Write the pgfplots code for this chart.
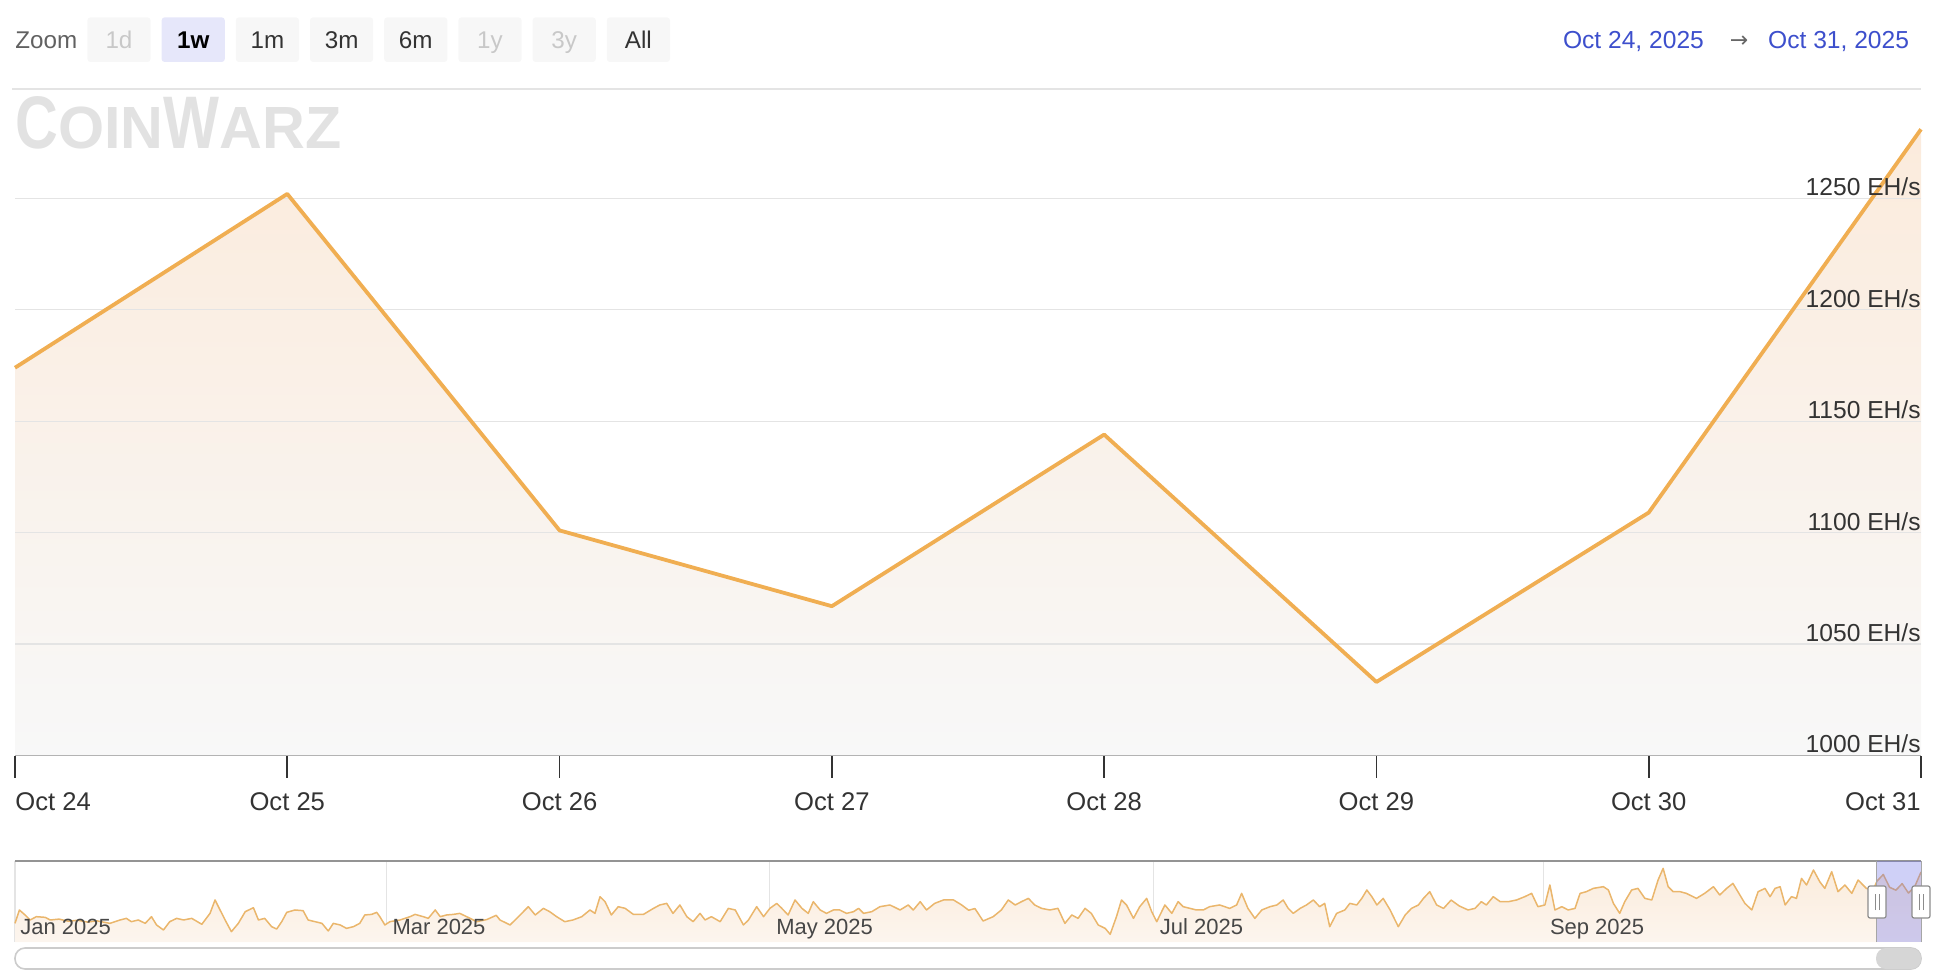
\documentclass[border=0pt]{standalone}
\usepackage{fontspec}
\setmainfont{Liberation Sans}
\newfontfamily\dejavu{DejaVu Sans}
\usepackage{pgfplots}
\pgfplotsset{compat=1.18}
\usepackage{graphicx}
\definecolor{lineorange}{RGB}{240,174,82}
\definecolor{navline}{RGB}{234,182,108}
\definecolor{filltop}{RGB}{251,235,220}
\definecolor{fillbot}{RGB}{248,248,248}
\definecolor{navtop}{RGB}{251,236,220}
\definecolor{navbot}{RGB}{252,245,238}
\definecolor{gridgray}{RGB}{228,228,228}
\definecolor{txt}{RGB}{51,51,51}
\definecolor{datablue}{RGB}{61,79,204}
\definecolor{btnbg}{RGB}{247,247,247}
\definecolor{btnsel}{RGB}{230,231,250}
\definecolor{disabled}{RGB}{200,200,200}
\definecolor{maskc}{RGB}{110,112,232}
\definecolor{wm}{RGB}{226,226,226}

\pgfplotstableread{
day val
0 675
0.7 833
1.6 774
2.4 715
3.4 754
4.8 746
5.6 715
7 725
8.5 700
10 712
11.5 690
13 705
15.1 675
16.7 715
17.7 734
18.5 695
19.6 715
20.7 675
21.7 754
22.5 656
23.6 597
24.6 695
25.7 734
26.8 715
28.1 734
29.7 664
31 793
31.8 951
32.6 833
33.4 715
34.4 577
35.5 675
36.6 813
37.9 860
38.7 715
39.7 734
40.8 636
41.6 608
42.4 695
43.2 805
44.5 833
45.8 825
46.6 715
47.7 695
48.8 675
49.8 585
50.6 675
51.7 656
52.7 616
53.8 636
54.8 675
55.6 774
56.7 781
57.5 805
58 754
58.8 656
59.6 695
61.2 715
62.8 754
63.6 781
64.9 754
65.7 734
66.8 833
67.6 754
68.6 774
69.7 781
70.7 793
71.8 754
73.4 695
75 720
76.5 770
77.1 715
78.7 656
80.3 774
81.6 872
82.7 774
84 852
85 813
86.1 754
87.4 695
88.7 715
90.1 754
91.4 833
92.2 793
93 990
93.8 931
94.8 774
95.9 872
97 852
98.3 781
99.9 781
101.5 852
102.5 892
103.6 911
104.6 793
105.7 892
106.8 754
107.8 695
108.9 793
109.7 715
110.7 754
112.1 695
113.4 852
114.5 833
115.8 656
116.6 715
117.9 872
119 754
120 852
121.1 911
121.9 852
122.9 774
124 951
125.1 852
126.1 793
126.9 931
128 833
129 793
130.1 833
131.1 833
132.2 793
133.3 813
134.1 852
134.9 793
136.2 813
137.5 872
139.1 892
140.7 833
142 892
142.8 833
143.9 931
144.9 833
146.2 911
147.6 951
149.2 951
150.5 892
151.6 830
152.6 850
153.9 703
155.5 754
156.8 833
157.9 951
159 892
160 931
161.1 970
162.1 892
163.2 852
164.5 833
165.8 852
166.9 675
168 774
169 734
170.1 852
171.1 793
172.2 656
173.3 616
174.1 546
175.1 754
175.9 951
176.7 892
177.8 734
178.8 872
179.9 970
180.7 813
181.5 695
182.8 892
183.9 793
184.9 931
185.7 872
186.8 852
187.8 833
188.9 833
189.9 872
191.5 892
193.1 852
194.2 892
195 1029
196 852
197.1 734
198.2 833
199.5 872
200.6 892
201.6 951
202.4 852
203.2 793
204.3 852
205.3 892
206.4 951
207.4 872
208.2 911
209 636
210.1 793
211.4 833
212.2 911
213.3 892
214.1 970
214.9 1069
215.7 990
216.5 892
217.5 970
218.6 833
219.9 636
221 774
222 852
223.1 892
223.9 970
224.9 1049
226 892
227.1 852
228.3 950
229.6 880
231 833
232.1 852
233.1 931
233.9 892
235 990
236.1 931
237.4 931
238.7 951
240 990
241.1 1029
242.1 872
243.2 892
244 1128
244.8 833
245.9 872
246.9 833
248 852
248.8 1029
249.8 1049
250.9 1088
252.5 1108
253.3 1069
254.1 911
255.1 793
255.9 931
257 1069
258 1088
259.1 970
260.2 951
261.2 1187
262 1324
262.8 1108
263.6 1049
264.7 1049
265.7 1029
267.3 970
268.6 1029
270 1108
271 1010
272.1 1088
273.1 1147
274.2 1010
275 911
276.1 833
277.1 1049
278.2 1088
279 990
279.8 1088
280.6 1108
281.4 892
282.4 990
283.2 970
284 1206
284.8 1128
285.9 1305
286.9 1167
287.7 1088
288.8 1285
289.8 1049
290.9 1128
292 1029
293 1187
294.3 1088
295.4 1069
296 1174
297 1252
298 1101
299 1067
300 1144
301 1033
302 1109
303 1281
}\navdata

\begin{document}
\begin{tikzpicture}[x=1pt,y=1pt]
\path (0,0) rectangle (971,487.5);

% ---- zoom buttons
\node[anchor=base west, inner sep=0, text=black!62, font=\fontsize{12.1}{14}\selectfont] at (7.5,463.4) {Zoom};
\newcommand\btn[4]{%
  \fill[#3, rounded corners=1.5pt] (#1-15.8,456.5) rectangle (#1+15.8,478.8);
  \node[anchor=base, inner sep=0, text=#4, font=\fontsize{12.1}{14}\selectfont] at (#1,463.4) {#2};}
\btn{59.5}{1d}{btnbg}{disabled}
\btn{96.6}{\bfseries 1w}{btnsel}{black}
\btn{133.7}{1m}{btnbg}{txt}
\btn{170.8}{3m}{btnbg}{txt}
\btn{207.9}{6m}{btnbg}{txt}
\btn{245.0}{1y}{btnbg}{disabled}
\btn{282.1}{3y}{btnbg}{disabled}
\btn{319.2}{All}{btnbg}{txt}

% ---- date range
\node[anchor=base west, inner sep=0, text=datablue, font=\fontsize{12.3}{14}\selectfont] at (781.3,463.3) {Oct 24, 2025};
\node[anchor=base, inner sep=0, text=black!60, font=\dejavu\fontsize{11}{14}\selectfont] at (869.5,463.8) {→};
\node[anchor=base east, inner sep=0, text=datablue, font=\fontsize{12.3}{14}\selectfont] at (954.7,463.3) {Oct 31, 2025};

% ---- separator and watermark
\draw[gridgray, line width=1pt] (6,443.2) -- (960.5,443.2);
\node[anchor=north west, inner sep=0, text=wm] at (7.5,439.2) {\resizebox{163pt}{26pt}{\bfseries C\scalebox{1}[0.8]{OIN}W\scalebox{1}[0.8]{ARZ}}};

% ---- main chart
\begin{axis}[
  at={(7.5pt,109.75pt)}, anchor=south west, scale only axis,
  width=953pt, height=333.5pt,
  xmin=0, xmax=7, ymin=1000, ymax=1299.3,
  clip=false,
  axis x line*=bottom, axis y line*=right,
  x axis line style={draw=txt, line width=0.8pt},
  y axis line style={draw=none},
  xtick={0,...,7}, xticklabels={,,,,,,,,},
  tick align=outside, major tick length=11pt,
  xtick style={draw=txt, line width=0.8pt},
  ytick=\empty,
]
\addplot[draw=none, top color=filltop, bottom color=fillbot] coordinates {
 (0,1000) (0,1174) (1,1252) (2,1101) (3,1067) (4,1144) (5,1033) (6,1109) (7,1281) (7,1000)} -- cycle;
\pgfplotsinvokeforeach{1050,1100,1150,1200,1250}{
  \draw[gridgray, line width=0.6pt] (axis cs:0,#1) -- (axis cs:7,#1);
}
\addplot[lineorange, line width=1.9pt, line join=round] coordinates {
 (0,1174) (1,1252) (2,1101) (3,1067) (4,1144) (5,1033) (6,1109) (7,1281)};
\begin{scope}[every node/.style={inner sep=0pt, text=txt, font=\fontsize{12.3}{14}\selectfont, anchor=base east}]
\pgfplotsinvokeforeach{1000,1050,1100,1150,1200,1250}{
  \node at (axis cs:7,#1) [yshift=1.3pt] {#1 EH/s};
}
\end{scope}
\begin{scope}[every node/.style={inner sep=0pt, text=txt, font=\fontsize{12.8}{14}\selectfont}]
\node[anchor=base west] at (axis cs:0,1000) [yshift=-27.25pt] {Oct 24};
\node[anchor=base] at (axis cs:1,1000) [yshift=-27.25pt] {Oct 25};
\node[anchor=base] at (axis cs:2,1000) [yshift=-27.25pt] {Oct 26};
\node[anchor=base] at (axis cs:3,1000) [yshift=-27.25pt] {Oct 27};
\node[anchor=base] at (axis cs:4,1000) [yshift=-27.25pt] {Oct 28};
\node[anchor=base] at (axis cs:5,1000) [yshift=-27.25pt] {Oct 29};
\node[anchor=base] at (axis cs:6,1000) [yshift=-27.25pt] {Oct 30};
\node[anchor=base east] at (axis cs:7,1000) [yshift=-27.25pt] {Oct 31};
\end{scope}
\end{axis}

% ---- navigator
\begin{axis}[
  at={(7.5pt,16.5pt)}, anchor=south west, scale only axis,
  width=953pt, height=40.5pt,
  xmin=0, xmax=303, ymin=455, ymax=1411,
  clip=false,
  axis line style={draw=none},
  xtick={0,59,120,181,243}, xticklabels={,,,,,},
  ytick=\empty, tick style={draw=none},
  xmajorgrids, grid style={gridgray, line width=0.6pt},
]
\addplot[draw=none, top color=navtop, bottom color=navbot] table[x=day,y=val] {\navdata} -- (axis cs:303,455) -- (axis cs:0,455) -- cycle;
\addplot[navline, line width=0.75pt, line join=round] table[x=day,y=val] {\navdata};
\draw[black!42, line width=1pt] (axis cs:0,1411) -- (axis cs:303,1411);
\fill[maskc, opacity=0.33] (axis cs:296,455) rectangle (axis cs:303,1411);
\draw[black!35, line width=0.5pt] (axis cs:296,455) -- (axis cs:296,1411);
\draw[black!35, line width=0.5pt] (axis cs:303,455) -- (axis cs:303,1411);
\begin{scope}[every node/.style={inner sep=0pt, text=black!72, font=\fontsize{11}{13}\selectfont, anchor=base west}]
\node at (axis cs:0,455) [xshift=2.5pt, yshift=4pt] {Jan 2025};
\node at (axis cs:59,455) [xshift=3pt, yshift=4pt] {Mar 2025};
\node at (axis cs:120,455) [xshift=3pt, yshift=4pt] {May 2025};
\node at (axis cs:181,455) [xshift=3pt, yshift=4pt] {Jul 2025};
\node at (axis cs:243,455) [xshift=3pt, yshift=4pt] {Sep 2025};
\end{scope}
\end{axis}

% handles
\foreach \hx in {938.5,960.5} {
  \draw[black!45, fill=white, rounded corners=1pt, line width=0.6pt] (\hx-4.5,28.5) rectangle (\hx+4.5,44.5);
  \draw[black!45, line width=0.5pt] (\hx-1,32.5) -- (\hx-1,40.5) (\hx+1,32.5) -- (\hx+1,40.5);
}
% scrollbar
\draw[black!20, fill=white, rounded corners=5pt, line width=0.8pt] (7.5,3) rectangle (960.5,13.5);
\fill[black!16, rounded corners=5pt] (938,3) rectangle (960.5,13.5);
\end{tikzpicture}
\end{document}
